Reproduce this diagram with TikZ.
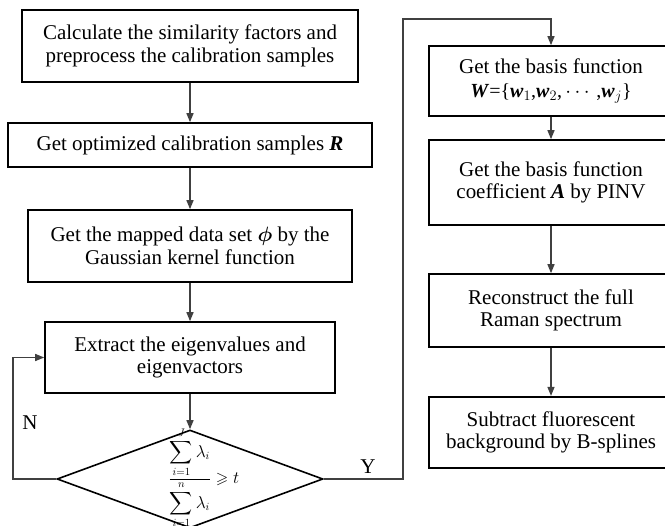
\documentclass[tikz,border=0pt]{standalone}
\usepackage{amsmath,amssymb,bm}
\usepackage{fontspec}
\setmainfont{Liberation Serif}
\usetikzlibrary{shapes.geometric,arrows.meta}
\begin{document}
\begin{tikzpicture}[x=1pt,y=-1pt,
  box/.style={draw=black,line width=1.6pt,rectangle,inner sep=0pt,align=center,
    font=\fontsize{21}{22.5}\selectfont},
  conn/.style={draw=black!75,line width=1.3pt},
  arr/.style={conn,-{Triangle[length=9pt,width=7pt]}},
  lbl/.style={font=\fontsize{21}{22}\selectfont}]
\useasboundingbox (0,0) rectangle (665,526);
\clip (0,0) rectangle (665,526);
\node[box,minimum width=336pt,minimum height=72pt] (b1) at (190,46)
  {Calculate the similarity factors and\\preprocess the calibration samples};
\node[box,minimum width=364pt,minimum height=44pt] (b2) at (190,145)
  {Get optimized calibration samples \textbf{\textit{R}}};
\node[box,minimum width=324pt,minimum height=72pt] (b3) at (190,246)
  {Get the mapped data set $\bm{\phi}$ by the\\Gaussian kernel function};
\node[box,minimum width=290pt,minimum height=71pt] (b4) at (190,357.5)
  {Extract the eigenvalues and\\eigenvactors};
\node[draw=black,line width=1.6pt,diamond,aspect=2.714,minimum width=266pt,minimum height=98pt,inner sep=0pt] (dia) at (190,479) {};
\node[font=\fontsize{16}{18}\selectfont,inner sep=0pt] (fr) at (204,478)
  {$\dfrac{\displaystyle\sum_{i=1}^{J}\lambda_i}{\displaystyle\sum_{i=1}^{n}\lambda_i}\geqslant t$};
\node[box,minimum width=244pt,minimum height=70pt] (b5) at (551,81)
  {Get the basis function\\[1pt]{\fontsize{20}{21}\selectfont\textbf{\textit{W}}=\{\textbf{\textit{w}}$_1$,\textbf{\textit{w}}$_2$,\,$\cdots$\,,\textbf{\textit{w}}$_j$\}}};
\node[box,minimum width=244pt,minimum height=85pt] (b6) at (551,182.5)
  {Get the basis function\\coefficient \textbf{\textit{A}} by PINV};
\node[box,minimum width=244pt,minimum height=73pt] (b7) at (551,310.5)
  {Reconstruct the full\\Raman spectrum};
\node[box,line width=2.2pt,minimum width=244pt,minimum height=71pt] (b8) at (551,432.5)
  {Subtract fluorescent\\background by B-splines};
\coordinate (nl) at (13,479);
\coordinate (yc) at (403,479);
\coordinate (yt) at (403,19);
\draw[arr] (b1.south) -- (b2.north);
\draw[arr] (b2.south) -- (b3.north);
\draw[arr] (b3.south) -- (b4.north);
\draw[arr] (b4.south) -- (dia.north);
\draw[arr] (dia.west) -- (nl) |- (b4.west);
\draw[arr] (dia.east) -- (yc) -- (yt) -| (b5.north);
\draw[arr] (b5.south) -- (b6.north);
\draw[arr] (b6.south) -- (b7.north);
\draw[arr] (b7.south) -- (b8.north);
\node[lbl] (ln) at (30,423) {N};
\node[lbl] (ly) at (368,467) {Y};
\end{tikzpicture}
\end{document}
